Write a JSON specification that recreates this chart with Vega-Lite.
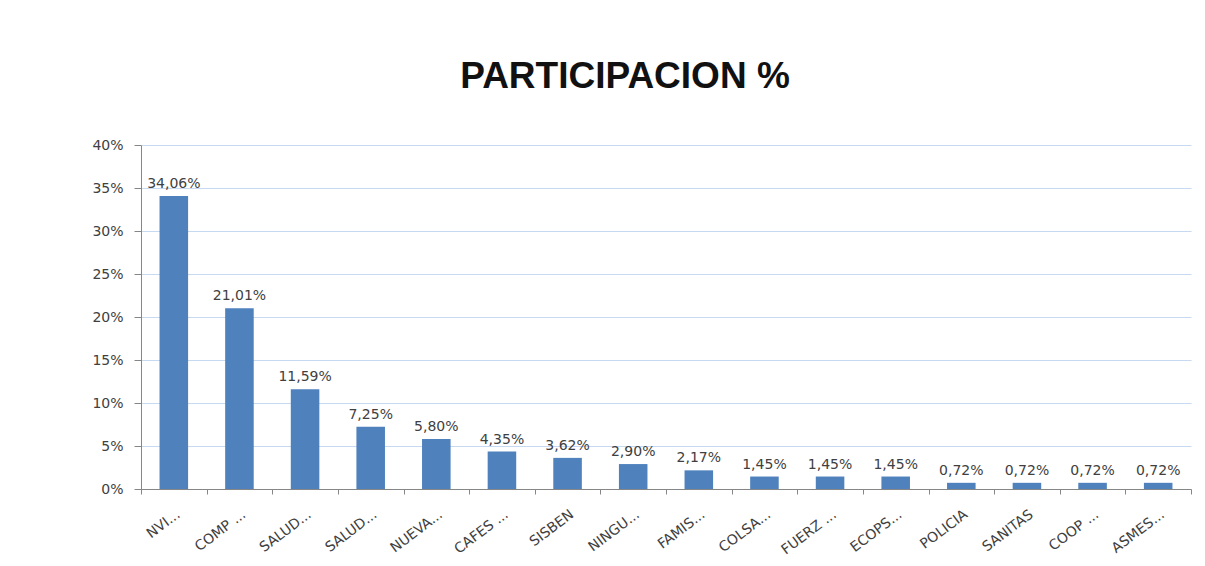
{
  "$schema": "https://vega.github.io/schema/vega-lite/v6.json",
  "width": 1050,
  "height": 344,
  "autosize": {"type": "none"},
  "padding": {"left": 141, "top": 145, "right": 14, "bottom": 77},
  "background": "white",
  "config": {
    "locale": {"number": {"decimal": ",", "thousands": ".", "grouping": [3], "currency": ["", " €"]}},
    "view": {"stroke": null},
    "font": "DejaVu Sans"
  },
  "title": {
    "text": "PARTICIPACION %",
    "font": "Liberation Sans",
    "fontSize": 37,
    "fontWeight": "bold",
    "color": "#111111",
    "anchor": "middle",
    "dx": -41,
    "offset": 42
  },
  "data": {
    "values": [
      {"entidad": "NVI...", "participacion": 0.3406},
      {"entidad": "COMP ...", "participacion": 0.2101},
      {"entidad": "SALUD...", "participacion": 0.1159},
      {"entidad": "SALUD...\u200b", "participacion": 0.0725},
      {"entidad": "NUEVA...", "participacion": 0.0580},
      {"entidad": "CAFES ...", "participacion": 0.0435},
      {"entidad": "SISBEN", "participacion": 0.0362},
      {"entidad": "NINGU...", "participacion": 0.0290},
      {"entidad": "FAMIS...", "participacion": 0.0217},
      {"entidad": "COLSA...", "participacion": 0.0145},
      {"entidad": "FUERZ ...", "participacion": 0.0145},
      {"entidad": "ECOPS...", "participacion": 0.0145},
      {"entidad": "POLICIA", "participacion": 0.0072},
      {"entidad": "SANITAS", "participacion": 0.0072},
      {"entidad": "COOP ...", "participacion": 0.0072},
      {"entidad": "ASMES...", "participacion": 0.0072}
    ]
  },
  "encoding": {
    "x": {
      "field": "entidad",
      "type": "nominal",
      "sort": null,
      "scale": {"paddingInner": 0, "paddingOuter": 0},
      "axis": {
        "title": null,
        "labelAngle": -37,
        "labelFontSize": 14,
        "labelColor": "#404040",
        "tickBand": "extent",
        "tickSize": 5,
        "tickColor": "#868686",
        "domainColor": "#868686",
        "labelPadding": 13,
        "grid": false
      }
    },
    "y": {
      "field": "participacion",
      "type": "quantitative",
      "scale": {"domain": [0, 0.4]},
      "axis": {
        "title": null,
        "format": ".0%",
        "values": [0, 0.05, 0.1, 0.15, 0.2, 0.25, 0.3, 0.35, 0.4],
        "tickSize": 7,
        "labelPadding": 11,
        "labelFontSize": 14,
        "labelColor": "#404040",
        "gridColor": "#c6d9f1",
        "domainColor": "#868686",
        "tickColor": "#868686"
      }
    }
  },
  "layer": [
    {"mark": {"type": "bar", "color": "#4f81bd", "width": {"band": 0.435}}},
    {
      "mark": {"type": "text", "dy": -5, "baseline": "bottom", "fontSize": 14, "color": "#404040"},
      "encoding": {"text": {"field": "participacion", "type": "quantitative", "format": ".2%"}}
    }
  ]
}
